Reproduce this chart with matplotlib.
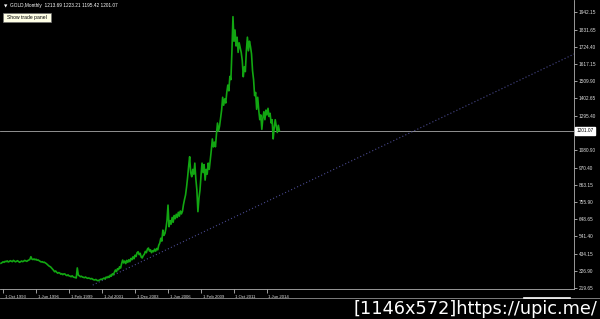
"""Gold monthly line chart, dark terminal style with a dotted trend line"""

import matplotlib
matplotlib.use('Agg')
import matplotlib.pyplot as plt
import matplotlib.transforms as mtransforms
from matplotlib.patches import Rectangle
from matplotlib.lines import Line2D

# monthly closes, one value per bar, starting autumn 1993
gold_close = [
    374, 378, 383, 380, 386, 384, 389, 382, 385, 390,
    387, 384, 392, 388, 383, 386, 390, 385, 380, 384,
    388, 384, 387, 392, 389, 386, 391, 394, 398, 415,
    400, 397, 401, 396, 399, 393, 395, 390, 386, 382,
    384, 379, 381, 376, 372, 366, 360, 355, 352, 345,
    338, 330, 321, 326, 318, 312, 316, 313, 306, 309,
    303, 308, 307, 300, 297, 302, 295, 294, 290, 296,
    289, 286, 285, 282, 345, 300, 296, 290, 293, 288,
    286, 284, 288, 283, 280, 282, 280, 276, 279, 274,
    271, 270, 273, 268, 265, 268, 271, 275, 273, 278,
    282, 276, 288, 284, 292, 286, 300, 294, 308, 302,
    318, 332, 322, 340, 334, 352, 344, 372, 394, 376,
    388, 372, 392, 380, 396, 384, 404, 396, 414, 402,
    424, 416, 440, 446, 428, 436, 412, 407, 422, 430,
    448, 440, 462, 469, 450, 458, 440, 452, 446, 462,
    450, 466, 458, 486, 500, 530, 512, 581, 548, 560,
    592, 640, 737, 602, 640, 618, 660, 630, 672, 652,
    680, 660, 692, 668, 700, 682, 698, 740, 772, 800,
    850, 910, 980, 1039, 940, 914, 960, 930, 999, 900,
    831, 696, 780, 830, 920, 999, 940, 990, 893, 960,
    930, 999, 960, 1020, 1080, 1150, 1100, 1130, 1101, 1180,
    1249, 1200, 1230, 1280, 1330, 1410, 1360, 1400, 1374, 1440,
    1486, 1450, 1540, 1520, 1700, 1913, 1760, 1830, 1730, 1785,
    1690, 1750, 1720, 1690, 1640, 1538, 1600, 1570, 1700, 1785,
    1700, 1760, 1726, 1680, 1575, 1520, 1420, 1440, 1335, 1410,
    1330, 1270, 1300, 1210, 1280, 1320, 1270, 1330, 1300, 1341,
    1290, 1310, 1250, 1270, 1150, 1220, 1270, 1230, 1190, 1235, 1201.07,
]

# last bar OHLC shown in the header
last_ohlc = ['1213.69', '1223.21', '1195.42', '1201.07']
bid_price = 1201.07

# trend line anchors (bar, price)
trend_bars = [89, 556]
trend_prices = [238, 1680]

# axis labels
tick_bars = [2, 34, 66, 98, 130, 162, 194, 226, 258]
tick_dates = ['1 Oct 1993', '1 Jun 1996', '1 Feb 1999', '1 Jul 2001', '1 Dec 2003',
              '1 Jun 2006', '1 Feb 2009', '1 Oct 2011', '1 Jun 2014']
price_ticks = [1942.15, 1831.65, 1724.40, 1617.15, 1509.90, 1402.65, 1295.40,
               1080.90, 970.40, 863.15, 755.90, 648.65, 541.40, 434.15, 326.90, 219.65]

small_font = ['Liberation Sans', 'DejaVu Sans']

bars = list(range(len(gold_close)))

fig = plt.figure(figsize=(6, 3.19), dpi=100, facecolor='black')
ax = fig.add_axes([0, 30 / 319, 574 / 600, 289 / 319])
ax.set_facecolor('black')

# price line
ax.plot(bars, gold_close, color='#12a612', lw=1.2, zorder=3)

# dotted trend line and bid line
ax.plot(trend_bars, trend_prices, color='#4a4a90', lw=0.8, ls=(0, (1, 2)), zorder=2)
ax.axhline(bid_price, color='#a8a8a8', lw=0.6, zorder=1)

ax.set_xlim(-0.97, 555.8)
ax.set_ylim(213.4, 2017.0)

# spines
for side in ['left', 'top']:
    ax.spines[side].set_visible(False)
for side in ['right', 'bottom']:
    ax.spines[side].set_color('#b0b0b0')
    ax.spines[side].set_linewidth(0.6)

# price scale on the right
ax.yaxis.tick_right()
ax.set_yticks(price_ticks, ['%.2f' % v for v in price_ticks])
ax.tick_params(axis='y', colors='#e0e0e0', labelsize=3.4, length=2, width=0.5, pad=1.2)
for lbl in ax.get_yticklabels():
    lbl.set_family(small_font)

# date scale, labels start right after the tick
ax.set_xticks(tick_bars, tick_dates)
ax.tick_params(axis='x', colors='#e0e0e0', labelsize=3.1, length=3, width=0.5, pad=1)
shift = mtransforms.ScaledTranslation(1.5 / 100, 0, fig.dpi_scale_trans)
for lbl in ax.get_xticklabels():
    lbl.set_ha('left')
    lbl.set_family(small_font)
    lbl.set_transform(lbl.get_transform() + shift)

# bid label box on the price scale
ax.text(1.004, bid_price, '%.2f' % bid_price, transform=ax.get_yaxis_transform(),
        fontsize=3.4, color='black', va='center', ha='left', family=small_font,
        bbox=dict(boxstyle='square,pad=0.3', fc='white', ec='white'))

# header text
fig.text(4 / 600, 1 - 6 / 319, '\u25bc', fontsize=3.2, color='white', va='center')
fig.text(10 / 600, 1 - 6 / 319, 'GOLD,Monthly  ' + ' '.join(last_ohlc),
         fontsize=3.4, color='white', va='center', family=small_font)

# "Show trade panel" button
fig.add_artist(Rectangle((3 / 600, 1 - 22 / 319), 48 / 600, 9 / 319,
                         transform=fig.transFigure, fc='#ffffe6', ec='#707070', lw=0.5))
fig.text(27 / 600, 1 - 17.5 / 319, 'Show trade panel', fontsize=3.6, color='black',
         ha='center', va='center', family=small_font)

# window bottom edge and scroll thumb
fig.add_artist(Line2D([0, 1], [1 - 298 / 319, 1 - 298 / 319], transform=fig.transFigure,
                      color='#909090', lw=0.6))
fig.add_artist(Line2D([524 / 600, 570 / 600], [1 - 298 / 319, 1 - 298 / 319],
                      transform=fig.transFigure, color='white', lw=1.2))

# watermark
fig.text(597 / 600, 1 - 309 / 319, '[1146x572]https://upic.me/', fontsize=12.8,
         color='white', ha='right', va='center')

fig.savefig('out.png', dpi=100, facecolor='black')
